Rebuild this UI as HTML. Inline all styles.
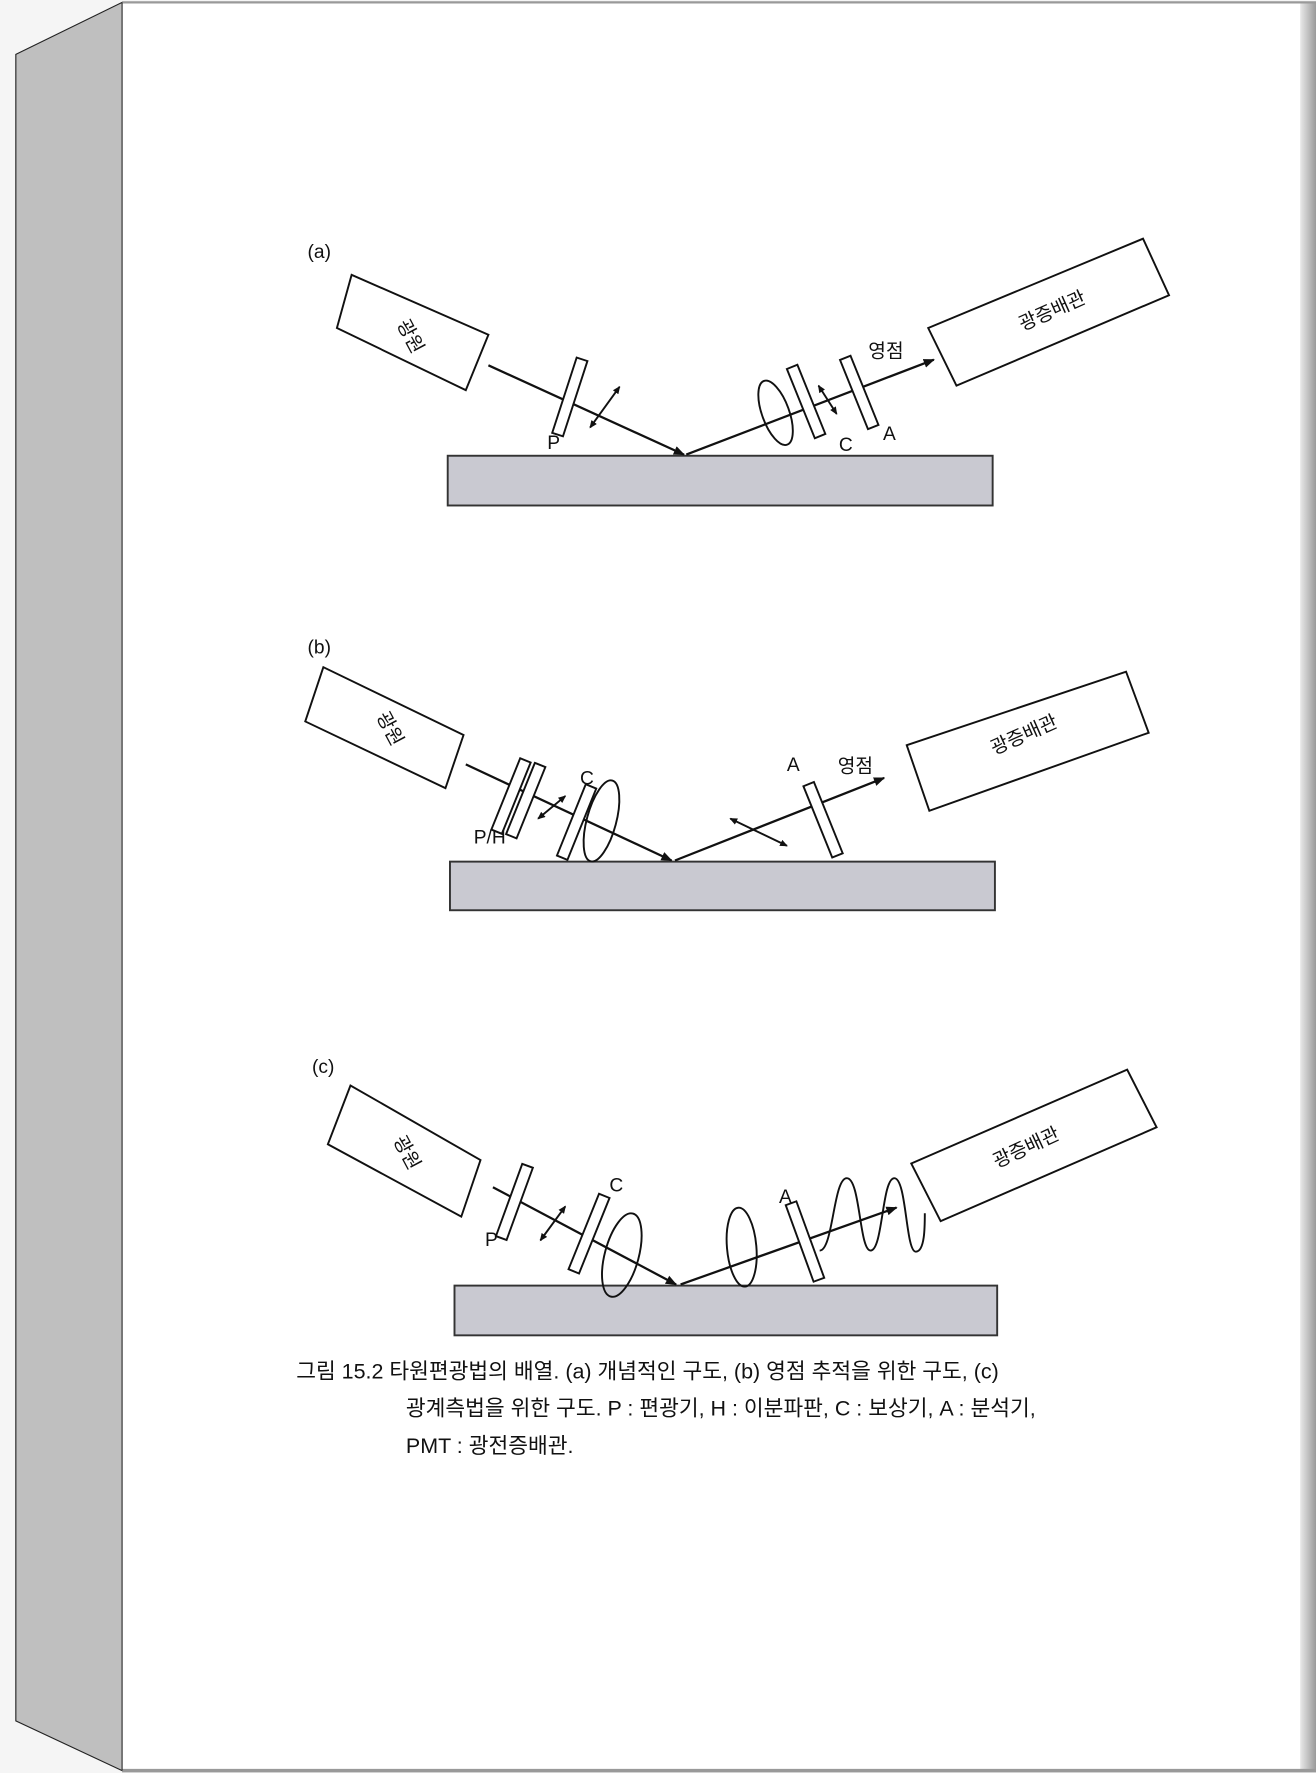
<!DOCTYPE html>
<html><head><meta charset="utf-8"><style>
html,body{margin:0;padding:0;background:#f5f5f5;}
svg{display:block;}
text{font-family:"Liberation Sans","Noto Sans CJK KR",sans-serif;fill:#111;}
</style></head><body>
<svg width="1316" height="1773" viewBox="0 0 1164 1568" xmlns="http://www.w3.org/2000/svg">
<defs>
<marker id="ah" markerWidth="10" markerHeight="8" refX="9" refY="4" orient="auto" markerUnits="userSpaceOnUse"><path d="M0,0 L10,4 L0,8 z" fill="#111"/></marker>
<marker id="as" markerWidth="7" markerHeight="6" refX="6" refY="3" orient="auto-start-reverse" markerUnits="userSpaceOnUse"><path d="M0,0 L7,3 L0,6 z" fill="#111"/></marker>
<linearGradient id="rs" x1="0" x2="1"><stop offset="0" stop-color="#e8e8e8"/><stop offset="1" stop-color="#9a9a9a"/></linearGradient>
</defs>
<rect width="1164" height="1568" fill="#f5f5f5"/>
<polygon points="14,48 108,2 108,1566 14,1522" fill="#bfbfbf" stroke="#222" stroke-width="1"/>
<rect x="108" y="2" width="1044" height="1564" fill="#fff"/>
<rect x="1150" y="2" width="14" height="1564" fill="url(#rs)"/>
<line x1="108" y1="2" x2="1164" y2="2" stroke="#999" stroke-width="2"/>
<line x1="108" y1="1566" x2="1164" y2="1566" stroke="#999" stroke-width="3"/>
<line x1="108" y1="2" x2="108" y2="1566" stroke="#333" stroke-width="1"/>

<g fill="none" stroke="#111" stroke-width="1.7">
<!-- (a) -->
<polygon points="311,243 298,290 412,345 432,296" fill="#fff"/>
<polygon points="821,290 1011,211 1034,261 846,341" fill="#fff"/>
<rect x="396" y="403" width="482" height="44" fill="#c9c9d1" stroke="#333"/>
<line x1="432" y1="323" x2="605" y2="402" stroke-width="2" marker-end="url(#ah)"/>
<line x1="607" y1="402" x2="826" y2="318" stroke-width="2" marker-end="url(#ah)"/>
<rect x="-5" y="-35" width="10" height="70" transform="translate(504,351) rotate(18)" fill="#fff"/>
<line x1="522" y1="378" x2="548" y2="342" marker-start="url(#as)" marker-end="url(#as)"/>
<ellipse cx="686" cy="365" rx="12" ry="30" transform="rotate(-20 686 365)"/>
<rect x="-5" y="-33" width="10" height="66" transform="translate(713,355) rotate(-22)" fill="#fff"/>
<line x1="724" y1="341" x2="740" y2="366" marker-start="url(#as)" marker-end="url(#as)"/>
<rect x="-5" y="-33" width="10" height="66" transform="translate(760,347) rotate(-22)" fill="#fff"/>

<!-- (b) -->
<polygon points="286,590 270,638 394,697 410,650" fill="#fff"/>
<polygon points="802,659 996,594 1016,648 822,717" fill="#fff"/>
<rect x="398" y="762" width="482" height="43" fill="#c9c9d1" stroke="#333"/>
<line x1="412" y1="676" x2="594" y2="761" stroke-width="2" marker-end="url(#ah)"/>
<line x1="597" y1="761" x2="782" y2="688" stroke-width="2" marker-end="url(#ah)"/>
<rect x="-5" y="-34" width="10" height="68" transform="translate(452,704) rotate(22)" fill="#fff"/>
<rect x="-5" y="-34" width="10" height="68" transform="translate(465,708) rotate(22)" fill="#fff"/>
<line x1="476" y1="724" x2="500" y2="704" marker-start="url(#as)" marker-end="url(#as)"/>
<rect x="-5" y="-34" width="10" height="68" transform="translate(510,727) rotate(22)" fill="#fff"/>
<ellipse cx="532" cy="726" rx="13" ry="37" transform="rotate(15 532 726)"/>
<line x1="646" y1="724" x2="696" y2="748" marker-start="url(#as)" marker-end="url(#as)"/>
<rect x="-5" y="-34" width="10" height="68" transform="translate(728,725) rotate(-22)" fill="#fff"/>

<!-- (c) -->
<polygon points="310,960 290,1012 408,1076 425,1026" fill="#fff"/>
<polygon points="806,1029 997,946 1023,997 832,1080" fill="#fff"/>
<rect x="402" y="1137" width="480" height="44" fill="#c9c9d1" stroke="#333"/>
<line x1="436" y1="1050" x2="598" y2="1136" stroke-width="2" marker-end="url(#ah)"/>
<line x1="602" y1="1136" x2="793" y2="1068" stroke-width="2" marker-end="url(#ah)"/>
<rect x="-5" y="-34" width="10" height="68" transform="translate(455,1063) rotate(20)" fill="#fff"/>
<line x1="478" y1="1097" x2="500" y2="1067" marker-start="url(#as)" marker-end="url(#as)"/>
<rect x="-5" y="-36" width="10" height="72" transform="translate(521,1091) rotate(22)" fill="#fff"/>
<ellipse cx="550" cy="1110" rx="15" ry="38" transform="rotate(15 550 1110)"/>
<ellipse cx="656" cy="1103" rx="13" ry="35" transform="rotate(-5 656 1103)"/>
<rect x="-5" y="-36" width="10" height="72" transform="translate(712,1098) rotate(-20)" fill="#fff"/>
<path d="M725,1106 C737,1106 737,1042 749,1042 C761,1042 760,1106 770,1106 C781,1106 780,1042 791,1042 C802,1042 801,1107 810,1107 C818,1107 818,1085 818,1073"/>
</g>

<g font-size="17">
<text x="272" y="228">(a)</text>
<text x="272" y="578">(b)</text>
<text x="276" y="949">(c)</text>
<text x="484" y="397">P</text>
<text x="742" y="399">C</text>
<text x="781" y="389">A</text>
<text x="419" y="746">P/H</text>
<text x="513" y="694">C</text>
<text x="696" y="682">A</text>
<text x="429" y="1102">P</text>
<text x="539" y="1054">C</text>
<text x="689" y="1064">A</text>
<text x="768" y="316">영점</text>
<text x="741" y="683">영점</text>
<text transform="translate(358,300) rotate(62)" text-anchor="middle" font-size="17">광원</text>
<text transform="translate(340,647) rotate(62)" text-anchor="middle" font-size="17">광원</text>
<text transform="translate(355,1022) rotate(62)" text-anchor="middle" font-size="17">광원</text>
<text transform="translate(933,280) rotate(-24)" text-anchor="middle" font-size="17">광증배관</text>
<text transform="translate(908,655) rotate(-24)" text-anchor="middle" font-size="17">광증배관</text>
<text transform="translate(910,1020) rotate(-25)" text-anchor="middle" font-size="17">광증배관</text>
</g>
<g font-size="19">
<text x="262" y="1219">그림 15.2 타원편광법의 배열. (a) 개념적인 구도, (b) 영점 추적을 위한 구도, (c)</text>
<text x="359" y="1252" font-family="Liberation Serif,'Noto Serif CJK SC',serif">광계측법을 위한 구도. P : 편광기, H : 이분파판, C : 보상기, A : 분석기,</text>
<text x="359" y="1285" font-family="Liberation Serif,'Noto Serif CJK SC',serif">PMT : 광전증배관.</text>
</g>
</svg>
</body></html>
